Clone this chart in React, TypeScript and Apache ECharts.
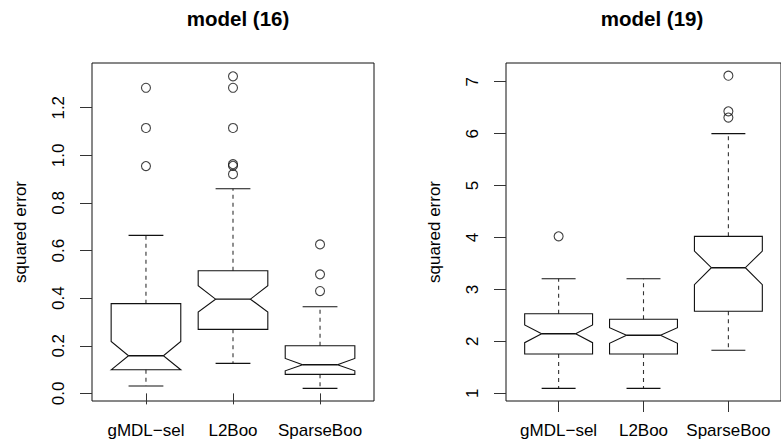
import React, { useEffect, useRef } from "react";
import * as echarts from "echarts";

const categories = ["gMDL\u2212sel", "L2Boo", "SparseBoo"];

// [lowWhisker, Q1, notchLow, median, notchHigh, Q3, highWhisker]
const stats16 = [
  [0.031, 0.099, 0.099, 0.158, 0.218, 0.377, 0.664],
  [0.126, 0.269, 0.342, 0.396, 0.452, 0.515, 0.86],
  [0.021, 0.08, 0.095, 0.12, 0.147, 0.2, 0.364],
];
const outliers16 = [
  [1.284, 1.115, 0.955],
  [1.332, 1.284, 1.115, 0.963, 0.956, 0.921],
  [0.626, 0.5, 0.43],
];
const stats19 = [
  [1.096, 1.757, 1.975, 2.148, 2.315, 2.533, 3.207],
  [1.096, 1.757, 1.963, 2.117, 2.264, 2.425, 3.207],
  [1.828, 2.579, 3.091, 3.419, 3.74, 4.023, 6.0],
];
const outliers19 = [[4.023], [], [7.116, 6.43, 6.31]];

const ticks16 = [0, 0.2, 0.4, 0.6, 0.8, 1.0, 1.2];
const ticks19 = [1, 2, 3, 4, 5, 6, 7];
const titles = ["model (16)", "model (19)"];
const yName = "squared error";

const FONT = "'Liberation Sans', Arial, Helvetica, sans-serif";

function boxRender(params: any, api: any) {
  const x = api.value(0);
  const low = api.value(1);
  const q1 = api.value(2);
  const nlo = api.value(3);
  const med = api.value(4);
  const nhi = api.value(5);
  const q3 = api.value(6);
  const high = api.value(7);
  const W = 0.4;
  const N = 0.2;
  const CAP = 0.2;
  const c = (dx: number, v: number) => api.coord([x + dx, v]);
  const line = (a: number[], b: number[], dashed: boolean) => ({
    type: "line",
    shape: { x1: a[0], y1: a[1], x2: b[0], y2: b[1] },
    style: {
      stroke: dashed ? "#333" : "#111",
      lineWidth: 1.1,
      lineDash: dashed ? [4, 4] : null,
    },
  });
  const poly = [
    c(-W, q1), c(-W, nlo), c(-N, med), c(-W, nhi), c(-W, q3),
    c(W, q3), c(W, nhi), c(N, med), c(W, nlo), c(W, q1),
  ];
  return {
    type: "group",
    children: [
      line(c(0, q3), c(0, high), true),
      line(c(0, q1), c(0, low), true),
      line(c(-CAP, high), c(CAP, high), false),
      line(c(-CAP, low), c(CAP, low), false),
      {
        type: "polygon",
        shape: { points: poly },
        style: { fill: "none", stroke: "#111", lineWidth: 1.1 },
      },
      {
        type: "line",
        shape: { x1: c(-N, med)[0], y1: c(-N, med)[1], x2: c(N, med)[0], y2: c(N, med)[1] },
        style: { stroke: "#111", lineWidth: 1.4 },
      },
    ],
  };
}

function buildOption() {
  const grids = [
    { left: 92, top: 63, width: 282, height: 338 },
    { left: 506, top: 63, width: 282, height: 338 },
  ];
  const yRanges = [
    { min: -0.032, max: 1.388, ticks: ticks16, fmt: (v: number) => v.toFixed(1) },
    { min: 0.852, max: 7.361, ticks: ticks19, fmt: (v: number) => String(v) },
  ];
  const statsAll = [stats16, stats19];
  const outAll = [outliers16, outliers19];
  const series: any[] = [];
  statsAll.forEach((st, gi) => {
    series.push({
      type: "custom",
      xAxisIndex: gi,
      yAxisIndex: gi,
      renderItem: boxRender,
      encode: { x: 0, y: [1, 2, 3, 4, 5, 6, 7] },
      data: st.map((s, i) => [i + 1, ...s]),
      silent: true,
    });
    const pts: number[][] = [];
    outAll[gi].forEach((arr, i) => arr.forEach((v) => pts.push([i + 1, v])));
    series.push({
      type: "scatter",
      xAxisIndex: gi,
      yAxisIndex: gi,
      symbol: "circle",
      symbolSize: 9,
      itemStyle: { color: "transparent", borderColor: "#111", borderWidth: 1.1 },
      data: pts,
      silent: true,
    });
  });
  return {
    animation: false,
    textStyle: { fontFamily: FONT },
    title: titles.map((t, i) => ({
      text: t,
      left: grids[i].left + grids[i].width / 2,
      top: 3,
      textAlign: "center",
      textStyle: { fontSize: 20.5, fontWeight: "bold", color: "#000", fontFamily: FONT },
    })),
    grid: grids.map((g) => ({
      ...g,
      show: true,
      borderColor: "#111",
      borderWidth: 1,
      backgroundColor: "transparent",
    })),
    xAxis: grids.map((_, gi) => ({
      type: "value",
      gridIndex: gi,
      min: 0.38,
      max: 3.62,
      splitLine: { show: false },
      axisLine: { show: false },
      axisTick: {
        show: true,
        length: 11,
        customValues: [1, 2, 3],
        lineStyle: { color: "#333", width: 1 },
      },
      axisLabel: {
        customValues: [1, 2, 3],
        formatter: (v: number) => categories[Math.round(v) - 1] ?? "",
        fontSize: 17,
        color: "#000",
        margin: 21,
        fontFamily: FONT,
      },
    })),
    yAxis: yRanges.map((r, gi) => ({
      type: "value",
      gridIndex: gi,
      min: r.min,
      max: r.max,
      splitLine: { show: false },
      axisLine: { show: false },
      axisTick: {
        show: true,
        length: 12,
        customValues: r.ticks,
        lineStyle: { color: "#333", width: 1 },
      },
      axisLabel: {
        customValues: r.ticks,
        formatter: r.fmt,
        rotate: 90,
        fontSize: 17,
        color: "#000",
        margin: 25,
        fontFamily: FONT,
      },
      name: yName,
      nameLocation: "middle",
      nameRotate: 90,
      nameGap: 63,
      nameTextStyle: { fontSize: 17, color: "#000", fontFamily: FONT },
    })),
    series,
  };
}

export default function App() {
  const ref = useRef<HTMLDivElement>(null);
  useEffect(() => {
    if (!ref.current) return;
    document.body.style.margin = "0";
    document.body.style.overflow = "hidden";
    const chart = echarts.init(ref.current, null, { renderer: "svg" });
    chart.setOption(buildOption() as any);
    return () => chart.dispose();
  }, []);
  return (
    <div
      ref={ref}
      style={{ position: "fixed", left: 0, top: 0, width: 781, height: 443, background: "#fff" }}
    />
  );
}
